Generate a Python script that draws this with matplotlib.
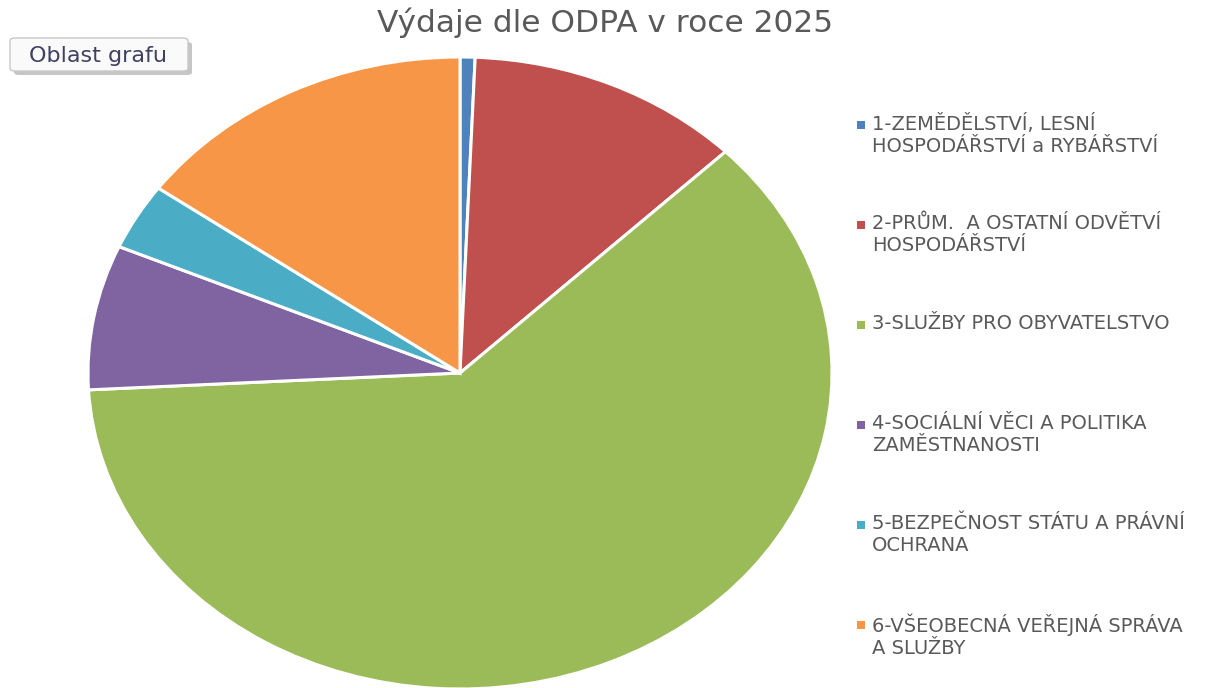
import matplotlib
matplotlib.use("Agg")
import matplotlib.pyplot as plt
from matplotlib.patches import Rectangle, FancyBboxPatch

categories = [
    "1-ZEMĚDĚLSTVÍ, LESNÍ\nHOSPODÁŘSTVÍ a RYBÁŘSTVÍ",
    "2-PRŮM.  A OSTATNÍ ODVĚTVÍ\nHOSPODÁŘSTVÍ",
    "3-SLUŽBY PRO OBYVATELSTVO",
    "4-SOCIÁLNÍ VĚCI A POLITIKA\nZAMĚSTNANOSTI",
    "5-BEZPEČNOST STÁTU A PRÁVNÍ\nOCHRANA",
    "6-VŠEOBECNÁ VEŘEJNÁ SPRÁVA\nA SLUŽBY",
]
shares = [0.65, 12.0, 61.5, 7.4, 3.4, 15.05]
colors = ["#4F81BD", "#C0504D", "#9BBB59", "#8064A2", "#4BACC6", "#F79646"]
title = "Výdaje dle ODPA v roce 2025"

W, H = 1216, 688
fig = plt.figure(figsize=(W / 100, H / 100), dpi=100)
plt.rcParams['font.family'] = ['DejaVu Sans']

# pie axes: ellipse centre (460,373), half axes 372 x 316 px
cx, cy, rx, ry = 460, 373, 372, 316
ax = fig.add_axes([(cx - rx) / W, (H - cy - ry) / H, 2 * rx / W, 2 * ry / H])
ax.pie(shares, colors=colors, startangle=90, counterclock=False, radius=1,
       wedgeprops=dict(edgecolor="white", linewidth=2.2))
ax.set_aspect('auto')
ax.set_xlim(-1, 1)
ax.set_ylim(-1, 1)
ax.axis('off')

fig.text(605 / W, 1 - 23 / H, title, ha='center', va='center',
         fontsize=22.5, color='#595959')

# "Oblast grafu" tooltip box
shadow = FancyBboxPatch((14 / W, 1 - 75 / H), 178 / W, 33 / H,
                        boxstyle="round,pad=0,rounding_size=0.004",
                        transform=fig.transFigure, facecolor='#A0A0A0',
                        edgecolor='none', alpha=0.6)
fig.add_artist(shadow)
box = FancyBboxPatch((10 / W, 1 - 71 / H), 178 / W, 33 / H,
                     boxstyle="round,pad=0,rounding_size=0.004",
                     transform=fig.transFigure, facecolor='#FAFAFA',
                     edgecolor='#C8C8C8', linewidth=1)
fig.add_artist(box)
fig.text(98 / W, 1 - 56 / H, "Oblast grafu", ha='center', va='center',
         fontsize=16, color='#404060')

# legend
for i, (lab, col) in enumerate(zip(categories, colors)):
    y0 = 125 + 100 * i
    fig.add_artist(Rectangle((857 / W, 1 - (y0 + 4) / H), 8 / W, 8 / H,
                             transform=fig.transFigure, facecolor=col,
                             edgecolor='none'))
    fig.text(872 / W, 1 - (y0 - 11) / H, lab, ha='left', va='top',
             fontsize=14, color='#595959', linespacing=1.2)

fig.savefig("out.png", dpi=100)
